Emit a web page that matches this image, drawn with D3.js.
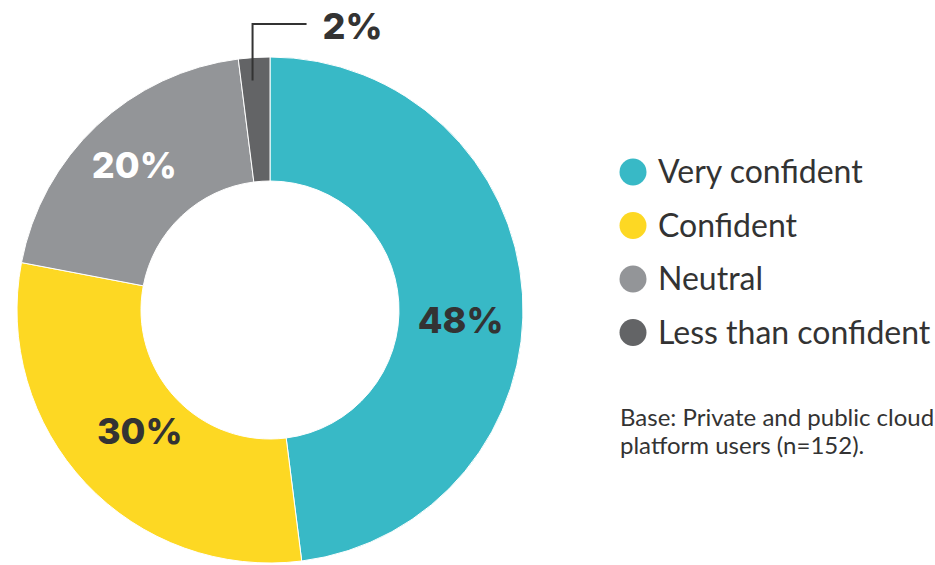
<!DOCTYPE html>
<html lang="en">

<head>
  <meta charset="utf-8">
  <title>Confidence donut</title>
  <script src="https://d3js.org/d3.v7.min.js"></script>
  <style>
    body {
      margin: 0;
      background: #fff;
    }
    .pct {
      font-family: Inter, sans-serif;
      font-weight: 800;
      font-size: 36px;
      text-anchor: middle;
    }
    .legend-text {
      font-family: Lato, sans-serif;
      font-size: 32px;
      fill: #333;
    }
    .note {
      font-family: Lato, sans-serif;
      font-size: 24px;
      fill: #333;
    }
  </style>
</head>

<body>
  <div id="chart"></div>
  <script>
    var w = 935;
    var h = 565;

    var categories = ['Very confident', 'Confident', 'Neutral', 'Less than confident'];
    var values = [48, 30, 20, 2];
    var colors = ['#38b9c6', '#fdd823', '#939598', '#636466'];
    var labelColors = ['#333333', '#333333', '#ffffff', '#333333'];
    var noteLines = ['Base: Private and public cloud', 'platform users (n=152).'];

    var cx = 270, cy = 310;
    var outerR = 253, innerR = 129;

    var svg = d3.select('#chart').append('svg')
      .attr('width', w)
      .attr('height', h);

    var g = svg.append('g')
      .attr('transform', 'translate(' + cx + ',' + cy + ')');

    var pie = d3.pie().sort(null).value(function (d) { return d; });
    var arcs = pie(values);

    var arc = d3.arc().innerRadius(innerR).outerRadius(outerR);
    var labelArc = d3.arc().innerRadius(191).outerRadius(191);

    g.selectAll('path.slice')
      .data(arcs)
      .enter().append('path')
      .attr('class', 'slice')
      .attr('d', arc)
      .attr('fill', function (d, i) { return colors[i]; })
      .attr('stroke', '#fff')
      .attr('stroke-width', 1);

    // small hand nudges so labels sit where the original put them
    var nudge = [[0, 22], [9, -10], [-5, -6], [0, 0]];

    g.selectAll('text.pct')
      .data(arcs.filter(function (d) { return d.value >= 5; }))
      .enter().append('text')
      .attr('class', 'pct')
      .attr('x', function (d) { return labelArc.centroid(d)[0] + nudge[d.index][0]; })
      .attr('y', function (d) { return labelArc.centroid(d)[1] + nudge[d.index][1]; })
      .attr('dy', '0.36em')
      .attr('fill', function (d) { return labelColors[d.index]; })
      .text(function (d) { return d.value + '%'; });

    // leader line for the tiny slice
    var small = arcs.filter(function (d) { return d.value < 5; });
    small.forEach(function (d) {
      var p = d3.arc().innerRadius(230).outerRadius(230).centroid(d);
      var x0 = p[0] - 3;
      var topY = 24 - cy;
      g.append('path')
        .attr('d', 'M' + x0 + ',' + p[1] + 'V' + topY + 'h54')
        .attr('fill', 'none')
        .attr('stroke', '#333')
        .attr('stroke-width', 2);
      g.append('text')
        .attr('class', 'pct')
        .attr('x', x0 + 100)
        .attr('y', topY + 15)
        .attr('fill', labelColors[d.index])
        .text(d.value + '%');
    });

    // legend
    var legend = svg.selectAll('g.legend')
      .data(categories)
      .enter().append('g')
      .attr('class', 'legend')
      .attr('transform', function (d, i) { return 'translate(633,' + (172 + i * 53.5) + ')'; });

    legend.append('circle')
      .attr('r', 13.5)
      .attr('fill', function (d, i) { return colors[i]; });

    legend.append('text')
      .attr('class', 'legend-text')
      .attr('x', 25)
      .attr('y', 11)
      .text(function (d) { return d; });

    svg.selectAll('text.note')
      .data(noteLines)
      .enter().append('text')
      .attr('class', 'note')
      .attr('x', 620)
      .attr('y', function (d, i) { return 426 + i * 28; })
      .text(function (d) { return d; });
  </script>
</body>

</html>
